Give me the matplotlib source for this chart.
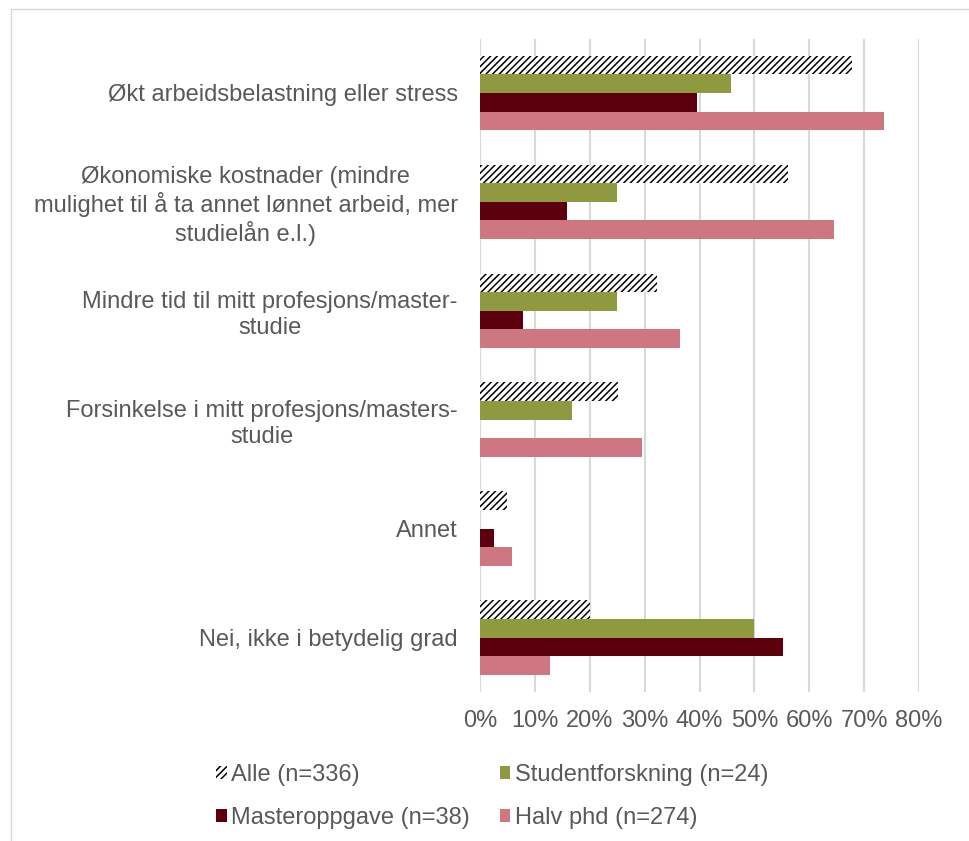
import matplotlib
matplotlib.use("Agg")
import matplotlib.pyplot as plt
import numpy as np
from matplotlib.lines import Line2D
from matplotlib.ticker import PercentFormatter

categories = [
    "Økt arbeidsbelastning eller stress",
    "Økonomiske kostnader (mindre\nmulighet til å ta annet lønnet arbeid, mer\nstudielån e.l.)",
    "Mindre tid til mitt profesjons/master-\nstudie",
    "Forsinkelse i mitt profesjons/masters-\nstudie",
    "Annet",
    "Nei, ikke i betydelig grad",
]
series_names = ["Alle (n=336)", "Studentforskning (n=24)", "Masteroppgave (n=38)", "Halv phd (n=274)"]
alle = [67.8, 56.2, 32.3, 25.2, 4.9, 20.1]
studentforskning = [45.8, 25.0, 25.0, 16.7, 0.0, 50.0]
masteroppgave = [39.5, 15.8, 7.9, 0.0, 2.6, 55.3]
halv_phd = [73.7, 64.6, 36.5, 29.6, 5.8, 12.8]
xticks = [0, 10, 20, 30, 40, 50, 60, 70, 80]

W, H = 969, 841
plt.rcParams['font.family'] = ['Liberation Sans', 'DejaVu Sans']
plt.rcParams['hatch.linewidth'] = 1.1
TXT = '#595959'
GRID = '#D9D9D9'

fig = plt.figure(figsize=(W / 100, H / 100), dpi=100)
ax = fig.add_axes([480 / W, 1 - 692 / H, (919 - 480) / W, (692 - 38.5) / H])

y = np.arange(len(categories))
h = 0.171
styles = [
    dict(color='white', edgecolor='black', hatch='/////', linewidth=0),
    dict(color='#8F993F', linewidth=0),
    dict(color='#5C000E', linewidth=0),
    dict(color='#CE7682', linewidth=0),
]
data = [alle, studentforskning, masteroppgave, halv_phd]
handles = []
for i, (vals, st, name) in enumerate(zip(data, styles, series_names)):
    bc = ax.barh(y + (i - 1.5) * h, vals, height=h, label=name, zorder=3, **st)
    handles.append(bc)

ax.set_ylim(len(categories) - 0.5, -0.5)
ax.set_xlim(0, 80)
ax.set_xticks(xticks)
ax.xaxis.set_major_formatter(PercentFormatter(decimals=0))
ax.set_yticks(y)
ax.set_yticklabels(categories, multialignment='center')
ax.tick_params(axis='x', length=0, pad=13, labelsize=17, labelcolor=TXT)
ax.tick_params(axis='y', length=0, pad=16, labelsize=17, labelcolor=TXT)
ax.grid(axis='x', color=GRID, linewidth=1.5, zorder=0)
for s in ax.spines.values():
    s.set_visible(False)

order = [0, 2, 1, 3]
leg = fig.legend([handles[k] for k in order], [series_names[k] for k in order],
                 ncol=2, loc='upper left', bbox_to_anchor=(216 / W, 1 - 764 / H),
                 frameon=False, fontsize=17, labelcolor=TXT,
                 handlelength=0.45, handleheight=0.45, handletextpad=0.2,
                 columnspacing=1.25, labelspacing=0.9, borderpad=0, borderaxespad=0)

fig.add_artist(Line2D([11 / W, 1], [1 - 9 / H, 1 - 9 / H], color=GRID, linewidth=1.0))
fig.add_artist(Line2D([11 / W, 11 / W], [0, 1 - 9 / H], color=GRID, linewidth=1.0))

fig.savefig('out.png', dpi=100, facecolor='white')
